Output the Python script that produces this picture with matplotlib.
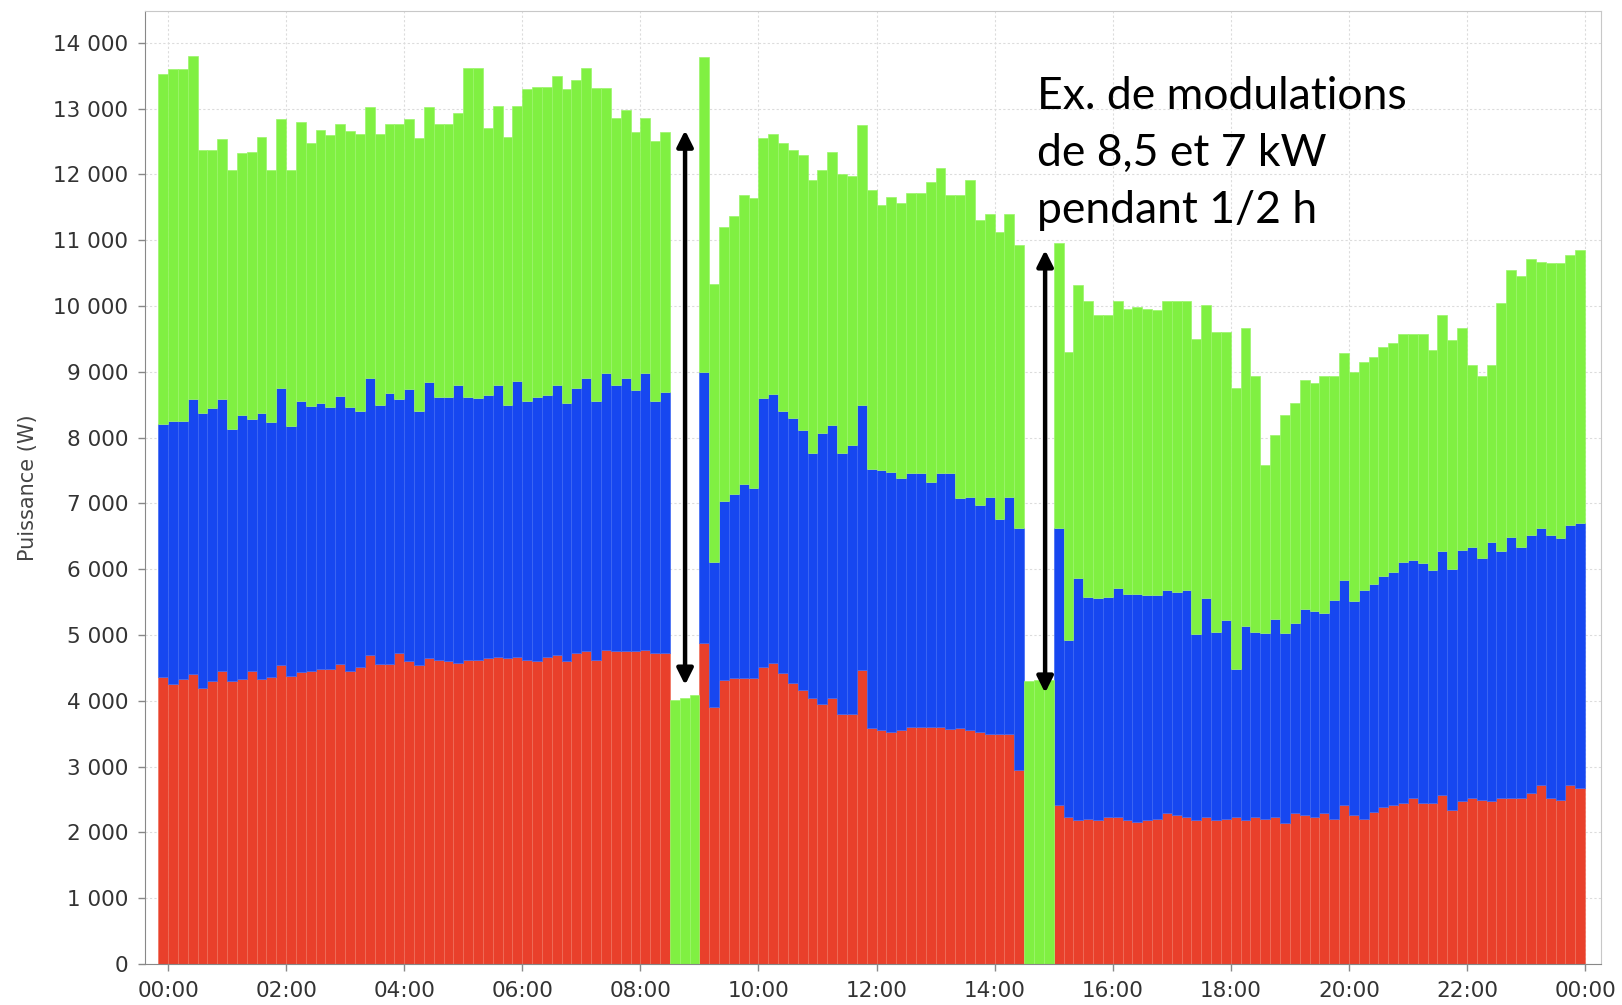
import numpy as np
import matplotlib
matplotlib.use('Agg')
import matplotlib.pyplot as plt


# Niveaux (W), un pas de 10 min, 145 barres
# sommet de la partie rouge
niveau_rouge = [
    4360, 4260, 4330, 4410, 4200, 4300, 4460, 4300, 4330, 4460,
    4330, 4360, 4540, 4380, 4440, 4460, 4490, 4490, 4560, 4460,
    4510, 4690, 4560, 4560, 4720, 4600, 4550, 4650, 4620, 4600,
    4570, 4620, 4620, 4650, 4670, 4650, 4670, 4620, 4600, 4670,
    4700, 4600, 4720, 4750, 4620, 4770, 4750, 4750, 4750, 4770,
    4720, 4720, 0, 0, 0, 4880, 3900, 4320, 4340, 4340,
    4340, 4520, 4570, 4420, 4270, 4170, 4050, 3950, 4050, 3800,
    3800, 4470, 3580, 3550, 3530, 3550, 3600, 3600, 3600, 3600,
    3570, 3580, 3560, 3520, 3500, 3500, 3500, 2950, 0, 0,
    0, 2420, 2240, 2190, 2210, 2190, 2240, 2240, 2190, 2160,
    2190, 2210, 2290, 2260, 2240, 2190, 2240, 2190, 2210, 2240,
    2190, 2240, 2210, 2240, 2140, 2290, 2260, 2240, 2290, 2210,
    2420, 2260, 2210, 2310, 2390, 2420, 2440, 2520, 2440, 2440,
    2570, 2340, 2470, 2520, 2490, 2470, 2520, 2520, 2520, 2600,
    2720, 2520, 2490, 2720, 2670,
]

# sommet de la partie bleue
niveau_bleu = [
    8200, 8250, 8250, 8580, 8380, 8450, 8580, 8130, 8350, 8290,
    8380, 8230, 8760, 8180, 8560, 8480, 8530, 8460, 8630, 8460,
    8400, 8900, 8500, 8680, 8580, 8740, 8400, 8850, 8620, 8620,
    8800, 8620, 8600, 8650, 8800, 8500, 8860, 8550, 8620, 8650,
    8800, 8520, 8750, 8900, 8550, 8980, 8800, 8900, 8720, 8980,
    8550, 8700, 0, 0, 0, 9000, 6110, 7030, 7150, 7300,
    7230, 8600, 8670, 8400, 8300, 8120, 7760, 8070, 8190, 7760,
    7890, 8500, 7530, 7510, 7480, 7380, 7460, 7460, 7330, 7460,
    7460, 7080, 7100, 6970, 7100, 6770, 7100, 6620, 0, 0,
    0, 6620, 4920, 5860, 5580, 5560, 5580, 5710, 5630, 5630,
    5610, 5610, 5680, 5660, 5680, 5020, 5560, 5050, 5230, 4490,
    5130, 5050, 5030, 5250, 5030, 5180, 5400, 5360, 5330, 5530,
    5840, 5510, 5680, 5780, 5890, 5960, 6110, 6140, 6090, 5990,
    6270, 6010, 6290, 6340, 6170, 6420, 6270, 6490, 6340, 6520,
    6620, 6520, 6470, 6670, 6700,
]

# sommet total (partie verte)
niveau_vert = [
    13520, 13600, 13600, 13800, 12370, 12370, 12540, 12070, 12330, 12340,
    12570, 12070, 12840, 12070, 12800, 12470, 12680, 12600, 12760, 12660,
    12620, 13030, 12620, 12760, 12760, 12840, 12550, 13020, 12760, 12760,
    12930, 13610, 13610, 12700, 13040, 12570, 13040, 13300, 13330, 13330,
    13490, 13300, 13430, 13610, 13320, 13320, 12850, 12980, 12650, 12850,
    12500, 12650, 4010, 4050, 4090, 13780, 10340, 11200, 11360, 11690,
    11640, 12550, 12620, 12470, 12370, 12290, 11910, 12070, 12340, 12000,
    11980, 12750, 11760, 11530, 11660, 11560, 11710, 11710, 11890, 12090,
    11690, 11690, 11910, 11300, 11400, 11130, 11400, 10930, 4300, 4310,
    4320, 10950, 9300, 10320, 10070, 9860, 9860, 10070, 9960, 9990,
    9960, 9940, 10070, 10070, 10070, 9500, 10020, 9610, 9610, 8750,
    9660, 8930, 7580, 8040, 8340, 8520, 8880, 8830, 8930, 8930,
    9280, 9000, 9150, 9230, 9380, 9430, 9580, 9580, 9580, 9330,
    9860, 9480, 9660, 9100, 8930, 9100, 10040, 10550, 10450, 10720,
    10670, 10650, 10650, 10770, 10850,
]

heures_ticks = [0, 2, 4, 6, 8, 10, 12, 14, 16, 18, 20, 22, 24]
labels_ticks = ['00:00', '02:00', '04:00', '06:00', '08:00', '10:00', '12:00',
                '14:00', '16:00', '18:00', '20:00', '22:00', '00:00']

# fleches des modulations : (heure, bas, haut)
fleches = [(8.757, 4240, 12670), (14.855, 4120, 10850)]

texte = 'Ex. de modulations\nde 8,5 et 7 kW\npendant 1/2 h'


rouge = np.array(niveau_rouge)
bleu = np.array(niveau_bleu)
vert = np.array(niveau_vert)

h_rouge = rouge
h_bleu = np.where(bleu > 0, bleu - rouge, 0)
bas_vert = np.where(bleu > 0, bleu, 0)
h_vert = vert - bas_vert

pas = 1 / 6
t = (np.arange(len(rouge)) - 0.5) * pas



fig = plt.figure(figsize=(16.22, 10.05), dpi=100)
ax = fig.add_axes([145 / 1622, 41 / 1005, 1456 / 1622, 953 / 1005])

ax.bar(t, h_rouge, width=pas, color='#E9402B', edgecolor='#F0705C', linewidth=0.5)
ax.bar(t, h_bleu, width=pas, bottom=h_rouge, color='#1747F0', edgecolor='#3F68F4', linewidth=0.5)
ax.bar(t, h_vert, width=pas, bottom=bas_vert, color='#80F042', edgecolor='#9BF56A', linewidth=0.5)


for x, y0, y1 in fleches:
    ax.annotate('', xy=(x, y1), xytext=(x, y0),
                arrowprops=dict(arrowstyle='<|-|>', color='black', lw=3.2,
                                mutation_scale=24, shrinkA=0, shrinkB=0))

fig.text(1037 / 1622, 1 - 76 / 1005, texte, family='Lato', fontsize=32,
         va='top', ha='left', linespacing=1.48, color='black')


ax.set_xlim(-0.39, 24.27)
ax.set_ylim(0, 14483)
ax.set_xticks(heures_ticks)
ax.set_xticklabels(labels_ticks)
ax.set_yticks(np.arange(0, 14001, 1000))
ax.set_yticklabels([f'{v:,}'.replace(',', ' ') for v in range(0, 14001, 1000)])

ax.tick_params(labelsize=15.5, colors='#333333', length=5, width=1, pad=7)
ax.tick_params(axis='both', color='#888888')

ax.set_ylabel('Puissance (W)', fontsize=15, color='#444444')
ax.yaxis.set_label_coords(-0.0735, 0.5)

ax.set_axisbelow(True)
ax.grid(True, color='#dcdcdc', lw=0.8, ls=(0, (2, 2)))

for s in ['left', 'bottom']:
    ax.spines[s].set_color('#888888')
for s in ['top', 'right']:
    ax.spines[s].set_color('#c8c8c8')


fig.savefig('out.png', dpi=100)
